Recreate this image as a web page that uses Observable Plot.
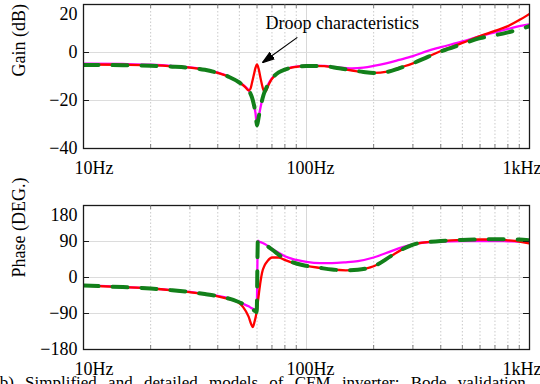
<!DOCTYPE html>
<html><head><meta charset="utf-8">
<script src="https://cdn.jsdelivr.net/npm/d3@7"></script>
<script src="https://cdn.jsdelivr.net/npm/@observablehq/plot@0.6"></script>
<style>
html,body{margin:0;padding:0;background:#fff;}
body{width:540px;height:384px;overflow:hidden;position:relative;font-family:"Liberation Serif","Times New Roman",serif;}
#caption{position:absolute;left:-6px;top:374px;font-size:17px;line-height:17px;white-space:nowrap;word-spacing:7px;color:#000;}
svg{display:block}
svg text{font-family:"Liberation Serif","Times New Roman",serif !important;}
</style></head><body>
<div id="gain"></div><div id="phase"></div>
<div id="caption">(b) Simplified and detailed models of CFM inverter: Bode validation</div>
<script>
// ---------- data ----------
const gainFreq = [10, 15, 20, 25, 30, 35, 40, 45, 50, 53, 55, 56, 57, 58, 59, 60, 61, 62, 63, 64, 65, 66, 68, 70, 75, 80, 90, 100, 120, 140, 160, 180, 200, 230, 260, 300, 350, 400, 500, 600, 700, 800, 900, 1000];
const gainRed = [-5.0, -5.1, -5.3, -5.8, -6.3, -7.2, -8.5, -10.2, -12.5, -14.3, -15.8, -15.2, -12.5, -9.5, -6.5, -5.0, -6.8, -10, -13, -15.5, -16.5, -15.8, -13, -11, -8.3, -7.1, -6, -5.6, -5.7, -6.7, -7.5, -8.2, -8.5, -8.0, -6.4, -4.5, -1.8, 0.6, 4.0, 6.8, 9.0, 11.0, 13.5, 16.1];
const gainMagenta = [-4.6, -4.8, -5.1, -5.6, -6.2, -7.1, -8.4, -10.1, -12.4, -14.2, -15.7, -17, -18.8, -21.5, -25, -30.4, -27, -23.5, -20.5, -18, -16.2, -14.8, -12.5, -10.7, -8.2, -7.0, -5.9, -5.5, -5.6, -6.3, -6.6, -6.3, -5.6, -4.4, -3.1, -1.5, 0.7, 2.2, 4.6, 6.8, 8.4, 9.8, 11, 11.7];
const gainGreen = [-5.2, -5.3, -5.5, -5.9, -6.4, -7.2, -8.5, -10.2, -12.5, -14.3, -15.8, -17, -18.8, -21.5, -25, -30.4, -27, -23.5, -20.5, -18, -16.2, -14.8, -12.5, -10.8, -8.3, -7.1, -6, -5.6, -5.7, -6.6, -7.4, -8.1, -8.5, -8.1, -6.6, -4.5, -1.8, 0.4, 3.5, 6.0, 7.2, 8.4, 9.6, 11];

const phaseFreq = [10, 15, 20, 25, 30, 35, 40, 45, 49, 52, 55, 56.5, 57.4, 58.5, 59.3, 59.8, 60.5, 61.3, 62.2, 63.2, 65, 67, 70, 75, 80, 90, 100, 115, 130, 150, 170, 200, 240, 270, 314, 400, 500, 600, 700, 800, 900, 1000];
const phaseRed = [-20, -24, -27.5, -32, -36.7, -41.5, -47, -54, -61, -74, -98, -117, -124, -110, -96, -85, -62, -36, -10, 12, 31, 42, 50, 50, 44, 34, 29, 24, 20, 18, 19.5, 28, 54, 71, 85, 91, 94, 95, 95, 93, 90, 85];
const phaseMagenta = [-19, -23.5, -27, -31.5, -36, -41, -46, -52, -60, -66, -72, -76, -78, -80.5, -82.5, -84, 92, 90, 88.5, 87, 83.5, 79, 72, 62, 53, 44, 39, 36, 36, 38, 41, 50, 66, 76, 85, 90, 91, 91, 91, 90.5, 90, 89];
const phaseGreen = [-20, -24, -27.5, -32, -36.5, -41.5, -46.5, -53, -60, -66, -72.5, -77, -80, -83, -85, -86.5, 92, 90, 88.5, 86.5, 83, 78, 70, 57, 47, 35, 29, 24, 20, 18, 19.5, 28, 54, 71, 85, 91, 94, 95, 95.5, 95.5, 95, 93];

const freqTicks = [10, 100, 1000];
const freqTickLabels = ["10Hz", "100Hz", "1kHz"];
const minorFreq = [20, 30, 40, 50, 60, 70, 80, 90, 200, 300, 400, 500, 600, 700, 800, 900];
const gainTicks = [20, 0, -20, -40];
const phaseTicks = [180, 90, 0, -90, -180];
const gainLabel = "Gain (dB)";
const phaseLabel = "Phase (DEG.)";
const droopText = [{f: 65.5, v: 12, text: "Droop characteristics"}];
const droopArrow = [{f1: 91, v1: 6.3, f2: 63.5, v2: -4.2}];

// ---------- helpers ----------
const FONT = "Liberation Serif";
const fmt = d => d < 0 ? "\u2212" + Math.abs(d) : String(d);
const rows = (fs, vs) => fs.map((f, i) => ({f, v: vs[i]}));

function headMarker(color) {
  return d3.create("svg:marker")
    .attr("viewBox", "-12 -5 12 10")
    .attr("markerUnits", "userSpaceOnUse")
    .attr("markerWidth", 12).attr("markerHeight", 10)
    .attr("refX", 0).attr("refY", 0)
    .attr("orient", "auto")
    .call(m => m.append("path").attr("d", "M-12,-4L0,0L-12,4Z").attr("fill", color))
    .node();
}

function panel({freqs, red, magenta, green, ticks, label, height, mt, mb, extra = []}) {
  const innerH = height - mt - mb;
  const lineOpts = {x: "f", y: "v", curve: "monotone-x", clip: true};
  const t = {fontSize: 18, fontFamily: FONT, fill: "black"};
  return Plot.plot({
    width: 540, height,
    marginLeft: 83, marginRight: 11, marginTop: mt, marginBottom: mb,
    style: {fontFamily: FONT, fontSize: "18px", background: "white", overflow: "visible", color: "black"},
    x: {type: "log", domain: [10, 1000], axis: null},
    y: {domain: [ticks[ticks.length - 1], ticks[0]], axis: null},
    marks: [
      Plot.ruleX(minorFreq, {stroke: "#c4c4c4", strokeWidth: 0.9, strokeDasharray: "1.5,2"}),
      Plot.ruleX([100], {stroke: "#d8d8d8", strokeWidth: 1}),
      Plot.ruleY(ticks.slice(1, -1), {stroke: "#dcdcdc", strokeWidth: 1}),
      Plot.line(rows(freqs, magenta), {...lineOpts, stroke: "#ff00ff", strokeWidth: 2.3}),
      Plot.line(rows(freqs, red), {...lineOpts, stroke: "#ff0000", strokeWidth: 2.3}),
      Plot.line(rows(freqs, green), {...lineOpts, stroke: "#12801a", strokeWidth: 4, strokeDasharray: "15,14"}),
      Plot.frame({stroke: "#1a1a1a", strokeWidth: 1.3}),
      Plot.tickY(ticks, {y: d => d, insetRight: 440, stroke: "#1a1a1a"}),
      Plot.tickY(ticks, {y: d => d, insetLeft: 440, stroke: "#1a1a1a"}),
      Plot.tickX(minorFreq, {x: d => d, insetTop: innerH - 4, stroke: "#666", strokeWidth: 0.8}),
      Plot.tickX(minorFreq, {x: d => d, insetBottom: innerH - 4, stroke: "#666", strokeWidth: 0.8}),
      // y tick labels
      Plot.text(ticks.slice(1), {...t, y: d => d, text: fmt, frameAnchor: "left", textAnchor: "end", dx: -6}),
      Plot.text(ticks.slice(0, 1), {...t, y: d => d, text: fmt, frameAnchor: "left", textAnchor: "end", dx: -6, dy: 10}),
      // x tick labels
      Plot.text([0], {...t, x: freqTicks[0], text: () => freqTickLabels[0], frameAnchor: "bottom", lineAnchor: "top", textAnchor: "start", dx: -9, dy: 13}),
      Plot.text([1], {...t, x: freqTicks[1], text: () => freqTickLabels[1], frameAnchor: "bottom", lineAnchor: "top", textAnchor: "middle", dx: 4, dy: 13}),
      Plot.text([2], {...t, x: freqTicks[2], text: () => freqTickLabels[2], frameAnchor: "bottom", lineAnchor: "top", textAnchor: "end", dx: 12, dy: 13}),
      // y axis label
      Plot.text([label], {...t, text: d => d, frameAnchor: "left", rotate: -90, dx: -64}),
      ...extra
    ]
  });
}

document.getElementById("gain").append(panel({
  freqs: gainFreq, red: gainRed, magenta: gainMagenta, green: gainGreen,
  ticks: gainTicks, label: gainLabel, height: 192, mt: 4, mb: 44,
  extra: [
    Plot.link(droopArrow, {x1: "f1", y1: "v1", x2: "f2", y2: "v2", stroke: "black", strokeWidth: 1.2, markerEnd: headMarker}),
    Plot.text(droopText, {x: "f", y: "v", text: "text", textAnchor: "start", fontSize: 18, fontFamily: FONT, fill: "black"})
  ]
}));
document.getElementById("phase").append(panel({
  freqs: phaseFreq, red: phaseRed, magenta: phaseMagenta, green: phaseGreen,
  ticks: phaseTicks, label: phaseLabel, height: 192, mt: 13, mb: 35
}));
</script></body></html>
